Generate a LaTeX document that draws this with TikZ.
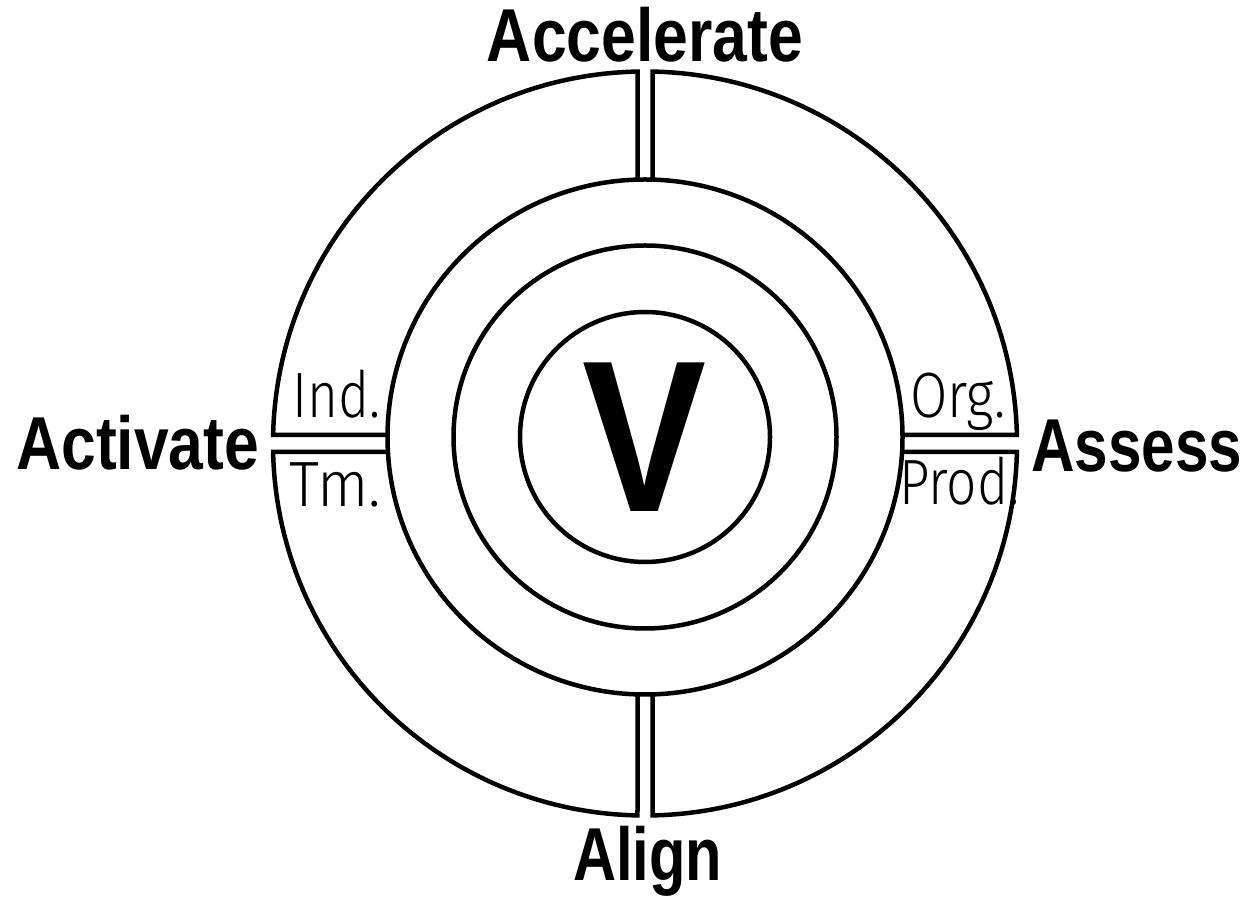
\documentclass[tikz,border=0pt]{standalone}
\usepackage{fontspec}
\usepackage{graphicx}
\setmainfont{Liberation Sans}
\newfontfamily\boldfam{Liberation Sans}[UprightFont=* Bold]
\IfFontExistsTF{Fira Sans Light}{\newfontfamily\lightfam{Fira Sans Light}\newcommand\lightsize{64}}{\newfontfamily\lightfam{Liberation Sans}\newcommand\lightsize{61}}
\newcommand\fitw[2]{\resizebox{#1}{\height}{#2}}
\begin{document}
\begin{tikzpicture}[x=1pt,y=1pt,
  ring/.style={draw=black,line width=4.5pt,line join=miter},
  big/.style={inner sep=0pt,font=\boldfam\fontsize{75}{75}\selectfont},
  small/.style={inner sep=0pt,anchor=base west,font=\lightfam\fontsize{\lightsize}{\lightsize}\selectfont}]
\useasboundingbox (0,0) rectangle (1247,897);
% concentric circles
\draw[ring] (645,460) circle[radius=125];
\draw[ring] (645,460) circle[radius=191.5];
\draw[ring] (645,460) circle[radius=257.5];
% outer ring segments
\draw[ring] (637.5,717.391) -- (637.5,825.424)
  arc[start angle=91.155, end angle=178.691, radius=372]
  -- (387.508,462);
\draw[ring] (652.5,717.391) -- (652.5,825.424)
  arc[start angle=88.845, end angle=1.309, radius=372]
  -- (902.492,462);
\draw[ring] (387.937,445) -- (273.097,445)
  arc[start angle=181.309, end angle=268.845, radius=372]
  -- (637.5,202.609);
\draw[ring] (902.063,445) -- (1016.903,445)
  arc[start angle=-1.309, end angle=-88.845, radius=372]
  -- (652.5,202.609);
% labels
\node[big,anchor=base] (acc) at (645,835) {\fitw{316pt}{Accelerate}};
\node[big,anchor=base west] (act) at (16,427) {\fitw{243pt}{Activate}};
\node[big,anchor=base west] (ass) at (1031,425) {\fitw{211pt}{Assess}};
\node[big,anchor=base] (ali) at (647.5,17) {\fitw{149pt}{Align}};
\node[small] (ind) at (292,479) {\fitw{88pt}{Ind.}};
\node[small] (tm) at (289,390) {\fitw{92pt}{Tm.}};
\node[small] (org) at (910,479) {\fitw{95pt}{Org.}};
\node[small] (prod) at (899,392) {\fitw{120pt}{Prod.}};
\node[inner sep=0pt,font=\boldfam\fontsize{216}{216}\selectfont] (v) at (644,459.5) {\fitw{124pt}{V}};
\end{tikzpicture}
\end{document}
